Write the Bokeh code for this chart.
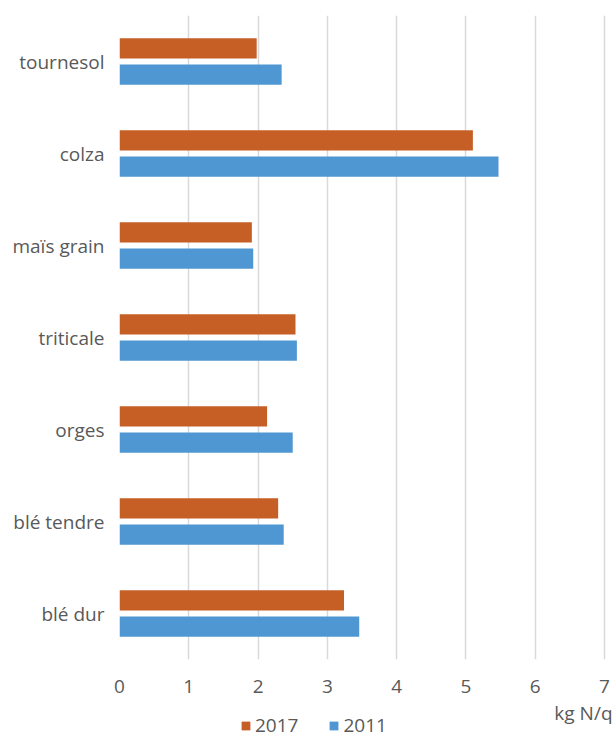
from bokeh.plotting import figure
from bokeh.layouts import column
from bokeh.models import FactorRange, Legend, LegendItem, Label, ColumnDataSource
from bokeh.transform import dodge
from bokeh.embed import file_html
from bokeh.resources import INLINE

categories = ["tournesol", "colza", "maïs grain", "triticale", "orges", "blé tendre", "blé dur"]
values_2017 = [1.98, 5.10, 1.91, 2.54, 2.13, 2.29, 3.24]
values_2011 = [2.34, 5.47, 1.93, 2.56, 2.50, 2.37, 3.46]
series_names = ["2017", "2011"]
x_ticks = [0, 1, 2, 3, 4, 5, 6, 7]
unit_label = "kg N/q"

FONT = "Open Sans"
FS = "19px"
TXT = "#595959"
ORANGE = "#C55F26"
BLUE = "#4F97D2"

factors = list(reversed(categories))
src = ColumnDataSource(dict(cat=categories, v2017=values_2017, v2011=values_2011))

# frame spans 119..614 px; x=7 falls at ~604 px
X_END = 7.144

p = figure(width=614, height=700, y_range=FactorRange(*factors), x_range=(0, X_END),
           output_backend="svg", toolbar_location=None,
           min_border_left=119, min_border_right=0, min_border_top=15, min_border_bottom=41)
p.outline_line_color = None

r17 = p.hbar(y=dodge("cat", 0.142, range=p.y_range), right="v2017", left=0, height=0.22,
             source=src, fill_color=ORANGE, line_color=None)
r11 = p.hbar(y=dodge("cat", -0.142, range=p.y_range), right="v2011", left=0, height=0.22,
             source=src, fill_color=BLUE, line_color=None)

p.xaxis.ticker = x_ticks
p.xaxis.axis_line_color = None
p.xaxis.major_tick_line_color = None
p.xaxis.minor_tick_line_color = None
p.xaxis.major_label_text_font = FONT
p.xaxis.major_label_text_font_size = FS
p.xaxis.major_label_text_color = TXT
p.xaxis.major_label_standoff = 14

p.yaxis.axis_line_color = None
p.yaxis.major_tick_line_color = None
p.yaxis.minor_tick_line_color = None
p.yaxis.major_label_text_font = FONT
p.yaxis.major_label_text_font_size = FS
p.yaxis.major_label_text_color = TXT
p.yaxis.major_label_standoff = 9

p.ygrid.grid_line_color = None
p.xgrid.grid_line_color = "#D9D9D9"
p.xgrid.grid_line_width = 1.5

# bottom strip: unit label + legend (frame aligned with the main plot's frame)
q = figure(width=614, height=38, x_range=(0, X_END), y_range=FactorRange(*factors),
           x_axis_type=None, y_axis_type=None,
           output_backend="svg", toolbar_location=None,
           min_border_left=119, min_border_right=0, min_border_top=0, min_border_bottom=0)
q.outline_line_color = None
q.grid.grid_line_color = None
# zero-height proxies so that the legend can draw its swatches
q17 = q.hbar(y="cat", right="v2017", left=0, height=0, source=src, fill_color=ORANGE, line_color=None)
q11 = q.hbar(y="cat", right="v2011", left=0, height=0, source=src, fill_color=BLUE, line_color=None)

unit = Label(x=493, y=26, x_units="screen", y_units="screen", text=unit_label,
             text_font=FONT, text_font_size=FS, text_color=TXT,
             text_align="right", text_baseline="middle")
q.add_layout(unit)

legend = Legend(items=[LegendItem(label=series_names[0], renderers=[q17]),
                       LegendItem(label=series_names[1], renderers=[q11])],
                orientation="horizontal", location=(121, 0),
                glyph_width=11, glyph_height=11, label_standoff=4, spacing=30,
                padding=0, margin=0, border_line_color=None, background_fill_alpha=0,
                label_text_font=FONT, label_text_font_size=FS, label_text_color=TXT)
q.add_layout(legend)

layout = column(p, q, spacing=0)
open("out.html", "w").write(file_html(layout, INLINE))
